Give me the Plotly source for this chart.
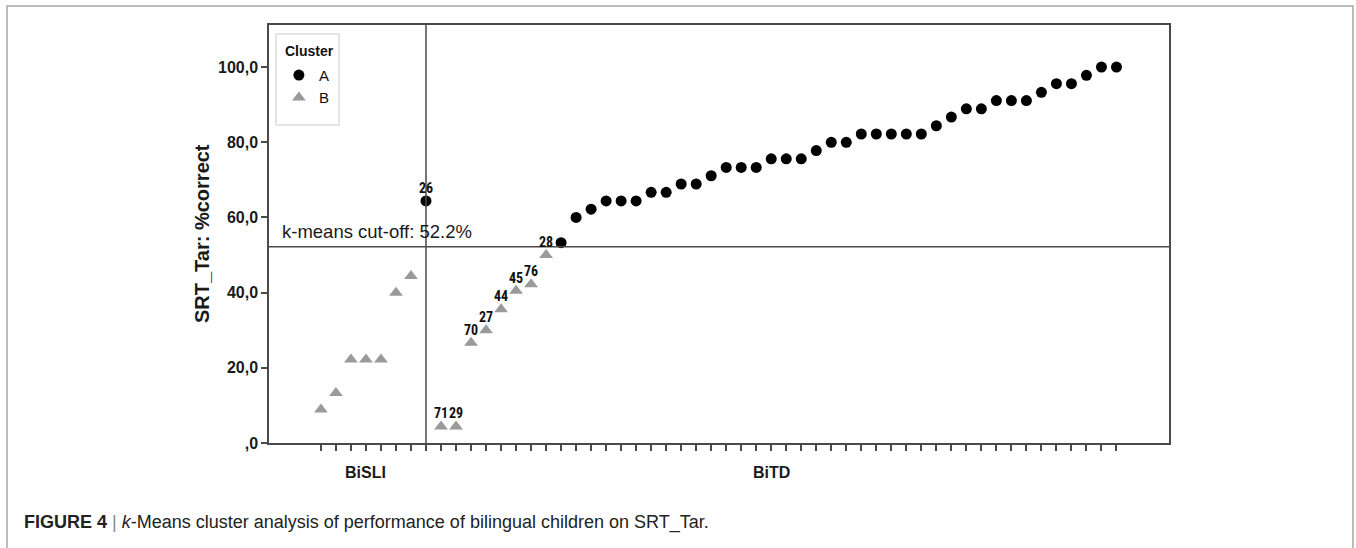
import plotly.graph_objects as go

# Cases in plotted order (one category per child)
case_group = ["BiSLI"] * 7 + ["BiTD"] * 47
cluster = (["B"] * 7 + ["A"] + ["B"] * 8 + ["A"] * 38)
srt_tar = [
    8.9, 13.3, 22.2, 22.2, 22.2, 40.0, 44.4,
    64.4,
    4.4, 4.4, 26.7, 30.0, 35.6, 40.5, 42.2, 50.0,
    53.3, 60.0, 62.2, 64.4, 64.4, 64.4, 66.7, 66.7, 68.9, 68.9,
    71.1, 73.3, 73.3, 73.3, 75.6, 75.6, 75.6, 77.8, 80.0, 80.0,
    82.2, 82.2, 82.2, 82.2, 82.2, 84.4, 86.7, 88.9, 88.9, 91.1,
    91.1, 91.1, 93.3, 95.6, 95.6, 97.8, 100.0, 100.0,
]
case_ids = (
    [""] * 7 + ["26"] + ["71", "29", "70", "27", "44", "45", "76", "28"] + [""] * 38
)
CUTOFF = 52.2
DIVIDER_CASE = "26"

y_ticks = [0, 20, 40, 60, 80, 100]
y_tick_text = [",0", "20,0", "40,0", "60,0", "80,0", "100,0"]
group_names = ["BiSLI", "BiTD"]

FONT = "Liberation Sans, Arial, sans-serif"
NARROW = "Liberation Sans Narrow, Arial Narrow, Roboto Condensed, DejaVu Sans Condensed, Liberation Sans, sans-serif"
x_idx = list(range(len(srt_tar)))

styles = {
    "A": dict(symbol="circle", color="#000000", size=11),
    "B": dict(symbol="triangle-up", color="#9a9a9a", size=12),
}

fig = go.Figure()
for name in ["A", "B"]:
    sel = [i for i in x_idx if cluster[i] == name]
    fig.add_trace(go.Scatter(
        x=sel,
        y=[srt_tar[i] for i in sel],
        mode="markers",
        marker=dict(symbol=styles[name]["symbol"], color=styles[name]["color"],
                    size=styles[name]["size"], line=dict(width=0)),
        name=name,
        cliponaxis=False,
    ))

divider_x = case_ids.index(DIVIDER_CASE)

shapes = [
    # k-means cut-off line
    dict(type="line", xref="paper", x0=0, x1=1, yref="y", y0=CUTOFF, y1=CUTOFF,
         line=dict(color="#4a4a4a", width=1.5)),
    # group divider
    dict(type="line", xref="x", x0=divider_x, x1=divider_x, yref="paper", y0=0, y1=1,
         line=dict(color="#4a4a4a", width=1.5)),
    # legend box
    dict(type="rect", xref="paper", yref="paper", x0=0.0078, x1=0.0778,
         y0=0.7608, y1=0.9785, line=dict(color="#dcdcdc", width=1.5)),
    # outer figure frame
    dict(type="rect", xref="paper", yref="paper", x0=-0.2911, x1=1.2044,
         y0=-0.6, y1=1.0455, line=dict(color="#a8a8a8", width=1.5), layer="below"),
]

group_pos = []
for g in group_names:
    idx = [i for i in x_idx if case_group[i] == g]
    group_pos.append((min(idx) + max(idx)) / 2)

annotations = [
    dict(text=f"k-means cut-off: {CUTOFF:.1f}%", xref="paper", x=0.0122, xanchor="left",
         yref="y", y=CUTOFF, yanchor="bottom", yshift=3, showarrow=False,
         font=dict(family=FONT, size=18.5, color="#1a1a1a")),
    dict(text="<b>SRT_Tar: %correct</b>", xref="paper", x=-0.0744, yref="paper", y=0.5,
         textangle=-90, showarrow=False, xanchor="center", yanchor="middle",
         font=dict(family=FONT, size=20, color="#1a1a1a")),
    dict(text="<b>FIGURE 4</b> <span style='color:#888'>|</span> <i>k</i>-Means cluster analysis "
              "of performance of bilingual children on SRT_Tar.",
         xref="paper", x=-0.2744, xanchor="left", yref="paper", y=-0.189, yanchor="middle",
         showarrow=False, font=dict(family=FONT, size=18, color="#222222")),
    dict(text="<b>Cluster</b>", xref="paper", x=0.0155, xanchor="left",
         yref="paper", y=0.937, yanchor="middle", showarrow=False,
         font=dict(family=FONT, size=14, color="#111111")),
]
# case-number labels above the marked points
for i in x_idx:
    if case_ids[i]:
        annotations.append(dict(text=f"<b>{case_ids[i]}</b>", x=i, y=srt_tar[i],
                                xref="x", yref="y", yanchor="middle", yshift=13,
                                showarrow=False,
                                font=dict(family=NARROW, size=14, color="#111111")))
for g, pos in zip(group_names, group_pos):
    annotations.append(dict(text=f"<b>{g}</b>", xref="x", x=pos, yref="paper", y=-0.0694,
                            yanchor="middle", showarrow=False,
                            font=dict(family=FONT, size=16, color="#1a1a1a")))

fig.update_layout(
    width=1356, height=548, autosize=False,
    margin=dict(l=269, r=187, t=25, b=105, pad=0),
    paper_bgcolor="white", plot_bgcolor="white",
    font=dict(family=FONT, color="#1a1a1a"),
    showlegend=True,
    legend=dict(
        font=dict(family=FONT, size=15, color="#111111"),
        x=0.011, y=0.919, xanchor="left", yanchor="top",
        bgcolor="rgba(0,0,0,0)", borderwidth=0, itemwidth=30,
        tracegroupgap=0,
    ),
    shapes=shapes,
    annotations=annotations,
    xaxis=dict(
        range=[-3.46, 56.5], tickvals=x_idx, showticklabels=False,
        ticks="outside", ticklen=6, tickwidth=1.5, tickcolor="#4a4a4a",
        showline=True, linecolor="#4a4a4a", linewidth=1.5, mirror=True,
        showgrid=False, zeroline=False,
    ),
    yaxis=dict(
        range=[0, 111.2], tickvals=y_ticks, ticktext=y_tick_text,
        ticks="outside", ticklen=6, tickwidth=1.5, tickcolor="#4a4a4a",
        tickfont=dict(family=FONT, size=16, color="#1a1a1a", weight="bold"),
        showline=True, linecolor="#4a4a4a", linewidth=1.5, mirror=True,
        showgrid=False, zeroline=False,
    ),
)

fig.write_html("out.html")
